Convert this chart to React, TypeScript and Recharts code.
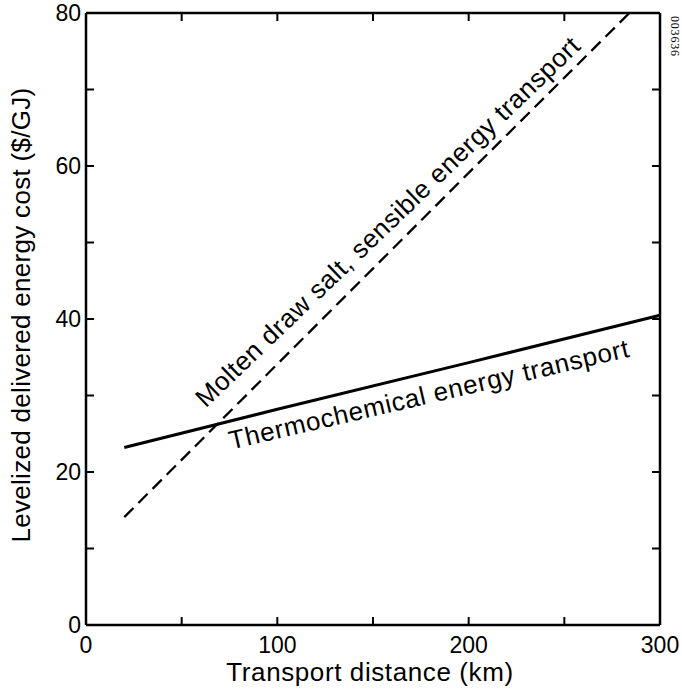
import { LineChart, Line, XAxis, YAxis } from 'recharts';

const THERMO_KM = [20, 100, 200, 300];
const THERMO_COST = [23.2, 28.2, 34.3, 40.5];
const SALT_KM = [20, 100, 200, 284];
const SALT_COST = [14.1, 34.1, 59.1, 80];
const X_TICKS = [0, 50, 100, 150, 200, 250, 300];
const Y_TICKS = [0, 10, 20, 30, 40, 50, 60, 70, 80];

const thermoData = THERMO_KM.map((km, i) => ({ km, cost: THERMO_COST[i] }));
const saltData = SALT_KM.map((km, i) => ({ km, cost: SALT_COST[i] }));

const FONT = '"Liberation Sans", Arial, sans-serif';
const TICK_LEN = 8;

const BottomTick = ({ x, y, payload }: any) => (
  <g>
    <line x1={x} x2={x} y1={y} y2={y - TICK_LEN} stroke="#000" strokeWidth={2} />
    {payload.value % 100 === 0 && (
      <text x={x} y={y + 28} textAnchor="middle" fontFamily={FONT} fontSize={23} fill="#000">
        {payload.value}
      </text>
    )}
  </g>
);

const TopTick = ({ x, y }: any) => (
  <line x1={x} x2={x} y1={y} y2={y + TICK_LEN} stroke="#000" strokeWidth={2} />
);

const LeftTick = ({ x, y, payload }: any) => (
  <g>
    <line x1={x} x2={x + TICK_LEN} y1={y} y2={y} stroke="#000" strokeWidth={2} />
    {payload.value % 20 === 0 && (
      <text x={x - 5} y={y + 8} textAnchor="end" fontFamily={FONT} fontSize={23} fill="#000">
        {payload.value}
      </text>
    )}
  </g>
);

const RightTick = ({ x, y }: any) => (
  <line x1={x} x2={x - TICK_LEN} y1={y} y2={y} stroke="#000" strokeWidth={2} />
);

export default function App() {
  const axisLine = { stroke: '#000', strokeWidth: 2.5 };
  return (
    <div style={{ position: 'absolute', left: 0, top: 0, width: 682, height: 696, background: '#fff' }}>
      <LineChart
        width={682}
        height={696}
        margin={{ top: 12, right: 21, bottom: 70, left: 85 }}
      >
        <XAxis
          xAxisId="bottom"
          dataKey="km"
          type="number"
          domain={[0, 300]}
          ticks={X_TICKS}
          height={1}
          tickSize={0}
          tickMargin={0}
          axisLine={axisLine}
          tickLine={false}
          tick={<BottomTick />}
          interval={0}
        />
        <XAxis
          xAxisId="top"
          orientation="top"
          dataKey="km"
          type="number"
          domain={[0, 300]}
          ticks={X_TICKS}
          height={1}
          tickSize={0}
          tickMargin={0}
          axisLine={axisLine}
          tickLine={false}
          tick={<TopTick />}
          interval={0}
        />
        <YAxis
          yAxisId="left"
          type="number"
          domain={[0, 80]}
          ticks={Y_TICKS}
          width={1}
          tickSize={0}
          tickMargin={0}
          axisLine={axisLine}
          tickLine={false}
          tick={<LeftTick />}
          interval={0}
          allowDataOverflow
        />
        <YAxis
          yAxisId="right"
          orientation="right"
          type="number"
          domain={[0, 80]}
          ticks={Y_TICKS}
          width={1}
          tickSize={0}
          tickMargin={0}
          axisLine={axisLine}
          tickLine={false}
          tick={<RightTick />}
          interval={0}
          allowDataOverflow
        />
        <Line
          xAxisId="bottom"
          yAxisId="left"
          data={thermoData}
          dataKey="cost"
          type="linear"
          stroke="#000"
          strokeWidth={3}
          dot={false}
          activeDot={false}
          isAnimationActive={false}
        />
        {/* same domains as bottom/left, bound to top/right so those axes draw their ticks */}
        <Line
          xAxisId="top"
          yAxisId="right"
          data={saltData}
          dataKey="cost"
          type="linear"
          stroke="#000"
          strokeWidth={2.3}
          strokeDasharray="13 7"
          dot={false}
          activeDot={false}
          isAnimationActive={false}
        />
      </LineChart>
      <svg
        width={682}
        height={696}
        style={{ position: 'absolute', left: 0, top: 0, pointerEvents: 'none' }}
      >
        <text
          transform="translate(394 228) rotate(-43.8)"
          textAnchor="middle"
          fontFamily={FONT}
          fontSize={26}
          letterSpacing={0.6}
          fill="#000"
        >
          Molten draw salt, sensible energy transport
        </text>
        <text
          transform="translate(431 403) rotate(-13.1)"
          textAnchor="middle"
          fontFamily={FONT}
          fontSize={26}
          letterSpacing={0.7}
          fill="#000"
        >
          Thermochemical energy transport
        </text>
        <text
          x={370}
          y={681}
          textAnchor="middle"
          fontFamily={FONT}
          fontSize={26}
          letterSpacing={0.6}
          fill="#000"
        >
          Transport distance (km)
        </text>
        <text
          transform="translate(30 315) rotate(-90)"
          textAnchor="middle"
          fontFamily={FONT}
          fontSize={26}
          letterSpacing={0.3}
          fill="#000"
        >
          Levelized delivered energy cost ($/GJ)
        </text>
        <text
          transform="translate(671 16) rotate(90)"
          fontFamily="'Liberation Serif', serif"
          fontSize={12}
          letterSpacing={0.8}
          fill="#000"
        >
          003636
        </text>
      </svg>
    </div>
  );
}
